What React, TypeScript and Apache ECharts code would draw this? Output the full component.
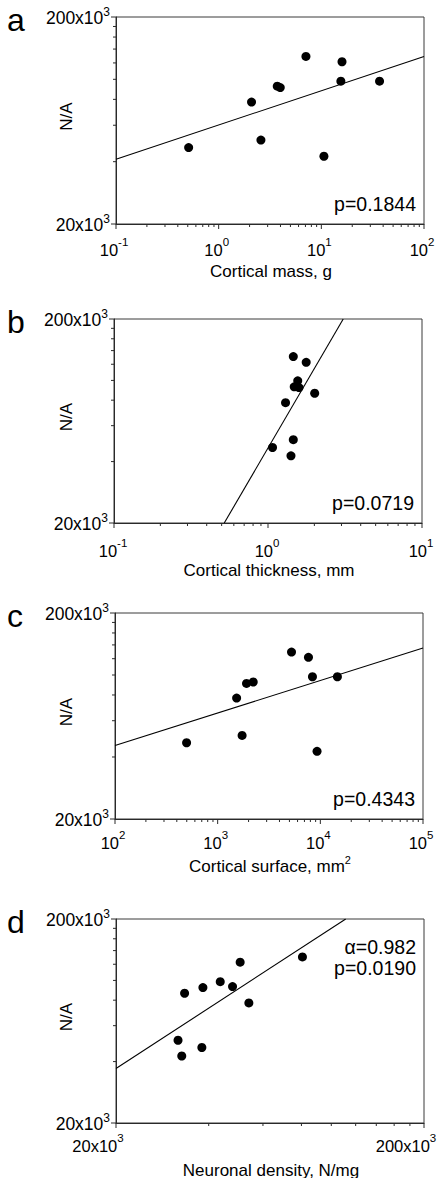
import React, { useEffect, useRef } from "react";
import * as echarts from "echarts";

// ---------- data ----------
const massX = [0.51, 2.09, 2.58, 3.72, 3.98, 7.08, 10.6, 15.5, 15.9, 36.9];
const massY = [46800, 77600, 50900, 92700, 91200, 129000, 42500, 98000, 121600, 98000];
const fitMass = [[0.1, 41100], [100, 128900]];

const thickX = [1.46, 1.77, 1.56, 1.48, 1.59, 2.01, 1.3, 1.07, 1.46, 1.41];
const thickY = [130800, 122700, 99500, 93000, 92200, 86500, 77800, 46900, 51200, 42700];
const fitThick = [[0.52, 20000], [3.08, 200000]];

const surfX = [5240, 7660, 8380, 14660, 1910, 2220, 1530, 498, 1730, 9290];
const surfY = [129300, 121800, 98100, 98100, 91000, 92500, 77300, 46900, 50900, 42600];
const fitSurf = [[100, 45500], [100000, 135300]];

const densX = [80600, 50600, 43600, 38300, 47800, 33400, 54000, 31800, 38000, 32700];
const densY = [130300, 122800, 98600, 92200, 93300, 86500, 77600, 50900, 46900, 42600];
const fitDens = [[20000, 37000], [111400, 200000]];

const yTicks = [20000, 200000];
const yTickLabels = ["20x10^3", "200x10^3"];
const yMinorTicks = [40000, 60000, 80000, 100000, 120000, 140000, 160000, 180000];

const massTicks = [0.1, 1, 10, 100];
const massTickLabels = ["10^-1", "10^0", "10^1", "10^2"];
const thickTicks = [0.1, 1, 10];
const thickTickLabels = ["10^-1", "10^0", "10^1"];
const surfTicks = [100, 1000, 10000, 100000];
const surfTickLabels = ["10^2", "10^3", "10^4", "10^5"];
const densTicks = [20000, 200000];
const densTickLabels = ["20x10^3", "200x10^3"];
const densMinorTicks = [40000, 60000, 80000, 100000, 120000, 140000, 160000, 180000];

const logMinor = (lo: number, hi: number) => {
  const out: number[] = [];
  for (let d = lo; d < hi; d *= 10) for (let k = 2; k <= 9; k++) out.push(+(k * d).toPrecision(3));
  return out;
};

// ---------- style ----------
const FONT = '"Liberation Sans", Arial, Helvetica, sans-serif';
const AXIS = "#2a2a2a";

let measureCtx: CanvasRenderingContext2D | null = null;
const textWidth = (s: string, size: number) => {
  if (!measureCtx) measureCtx = document.createElement("canvas").getContext("2d");
  if (!measureCtx) return s.length * size * 0.55;
  measureCtx.font = `${size}px ${FONT}`;
  return measureCtx.measureText(s).width;
};

const panels = [
  {
    letter: "a", grid: { left: 116, top: 17, width: 308, height: 207 },
    xMin: 0.1, xMax: 100, xs: massX, ys: massY, fit: fitMass,
    xTicks: massTicks, xLabels: massTickLabels, xMinor: logMinor(0.1, 100),
    title: "Cortical mass, g", stats: ["p=0.1844"], labelDx: -2, labelDy: 26,
  },
  {
    letter: "b", grid: { left: 114, top: 319, width: 308, height: 204 },
    xMin: 0.1, xMax: 10, xs: thickX, ys: thickY, fit: fitThick,
    xTicks: thickTicks, xLabels: thickTickLabels, xMinor: logMinor(0.1, 10),
    title: "Cortical thickness, mm", stats: ["p=0.0719"], labelDx: -1, labelDy: 28,
  },
  {
    letter: "c", grid: { left: 115, top: 613, width: 308, height: 206 },
    xMin: 100, xMax: 100000, xs: surfX, ys: surfY, fit: fitSurf,
    xTicks: surfTicks, xLabels: surfTickLabels, xMinor: logMinor(100, 100000),
    title: "Cortical surface, mm^2", stats: ["p=0.4343"], labelDx: -2, labelDy: 24,
  },
  {
    letter: "d", grid: { left: 116, top: 919, width: 308, height: 204 },
    xMin: 20000, xMax: 200000, xs: densX, ys: densY, fit: fitDens,
    xTicks: densTicks, xLabels: densTickLabels, xMinor: densMinorTicks,
    title: "Neuronal density, N/mg", stats: ["\u03b1=0.982", "p=0.0190"], labelDx: -18, labelDy: 23,
  },
];

const Y_MIN = 20000;
const Y_MAX = 200000;

function decor(p: any) {
  return (params: any, api: any) => {
    const [gx0, gy0] = api.coord([p.xMin, Y_MIN]);
    const [gx1, gy1] = api.coord([p.xMax, Y_MAX]);
    const ch: any[] = [];
    const tick = (x1: number, y1: number, x2: number, y2: number) =>
      ch.push({ type: "line", shape: { x1, y1, x2, y2 }, style: { stroke: AXIS, lineWidth: 1 } });
    const plain = (x: number, y: number, s: string, size: number, align = "left") =>
      ch.push({
        type: "text", x, y,
        style: { text: s, fontSize: size, fontFamily: FONT, fill: "#000", align, verticalAlign: "middle" },
      });
    // text with optional superscript after "^"
    const sup = (x: number, y: number, s: string, align: string, base = 16, supSize = 11, rise = 7) => {
      const [b, e] = s.split("^");
      const wb = textWidth(b, base);
      const we = e !== undefined ? textWidth(e, supSize) : 0;
      const total = wb + we;
      const left = align === "center" ? x - total / 2 : align === "right" ? x - total : x;
      plain(left, y, b, base);
      if (e !== undefined) plain(left + wb, y - rise, e, supSize);
    };

    p.xMinor.forEach((v: number) => {
      const x = api.coord([v, Y_MIN])[0];
      tick(x, gy0, x, gy0 + 3);
    });
    p.xTicks.forEach((v: number, i: number) => {
      const x = api.coord([v, Y_MIN])[0];
      tick(x, gy0, x, gy0 + 5);
      sup(x + p.labelDx, gy0 + p.labelDy, p.xLabels[i], "center", 16.5, 11.5, 8);
    });
    yMinorTicks.forEach((v) => {
      const y = api.coord([p.xMin, v])[1];
      tick(gx0 - 3, y, gx0, y);
    });
    yTicks.forEach((v, i) => {
      const y = api.coord([p.xMin, v])[1];
      tick(gx0 - 5, y, gx0, y);
      sup(gx0 - 6, y + 1, yTickLabels[i], "right", 17.5, 12, 6);
    });
    sup((gx0 + gx1) / 2 + 1, gy0 + 47, p.title, "center", 17, 11, 6);
    ch.push({
      type: "text", x: 66, y: (gy0 + gy1) / 2 - 4, rotation: Math.PI / 2,
      style: { text: "N/A", fontSize: 17, fontFamily: FONT, fill: "#000", align: "center", verticalAlign: "middle" },
    });
    ch.push({
      type: "text", x: 7, y: gy1 + 2.5,
      style: { text: p.letter, fontSize: 32, fontFamily: FONT, fill: "#000", align: "left", verticalAlign: "middle" },
    });
    const n = p.stats.length;
    p.stats.forEach((s: string, i: number) => {
      const y = n === 1 ? gy0 - 20 : gy1 + 28 + i * 21;
      plain(gx1 - 8, y, s, 19.5, "right");
    });
    return { type: "group", children: ch };
  };
}

function buildOption() {
  const grid: any[] = [];
  const xAxis: any[] = [];
  const yAxis: any[] = [];
  const series: any[] = [];
  panels.forEach((p, i) => {
    grid.push({ ...p.grid, show: true, borderColor: "#3a3a3a", borderWidth: 1, backgroundColor: "transparent", containLabel: false });
    const common = {
      type: "log", logBase: 10, gridIndex: i,
      axisLine: { show: true, lineStyle: { color: AXIS, width: 1 } },
      axisTick: { show: false }, axisLabel: { show: false }, splitLine: { show: false },
    };
    xAxis.push({ ...common, min: p.xMin, max: p.xMax });
    yAxis.push({ ...common, min: Y_MIN, max: Y_MAX });
    series.push({
      type: "line", xAxisIndex: i, yAxisIndex: i, data: p.fit, showSymbol: false, silent: true,
      lineStyle: { color: "#000", width: 1.1 },
    });
    series.push({
      type: "scatter", xAxisIndex: i, yAxisIndex: i, symbol: "circle", symbolSize: 9,
      itemStyle: { color: "#000", opacity: 1 }, data: p.xs.map((x, k) => [x, p.ys[k]]), silent: true,
    });
    series.push({
      type: "custom", xAxisIndex: i, yAxisIndex: i, clip: false, silent: true,
      data: [[p.xMin, Y_MIN]], renderItem: decor(p),
    });
  });
  return { animation: false, backgroundColor: "#fff", grid, xAxis, yAxis, series };
}

export default function App() {
  const ref = useRef<HTMLDivElement>(null);
  useEffect(() => {
    if (!ref.current) return;
    const chart = echarts.init(ref.current, undefined, { renderer: "svg" });
    chart.setOption(buildOption() as any);
    return () => chart.dispose();
  }, []);
  return (
    <div
      ref={ref}
      style={{ position: "absolute", left: 0, top: 0, width: 441, height: 1178, background: "#fff" }}
    />
  );
}
